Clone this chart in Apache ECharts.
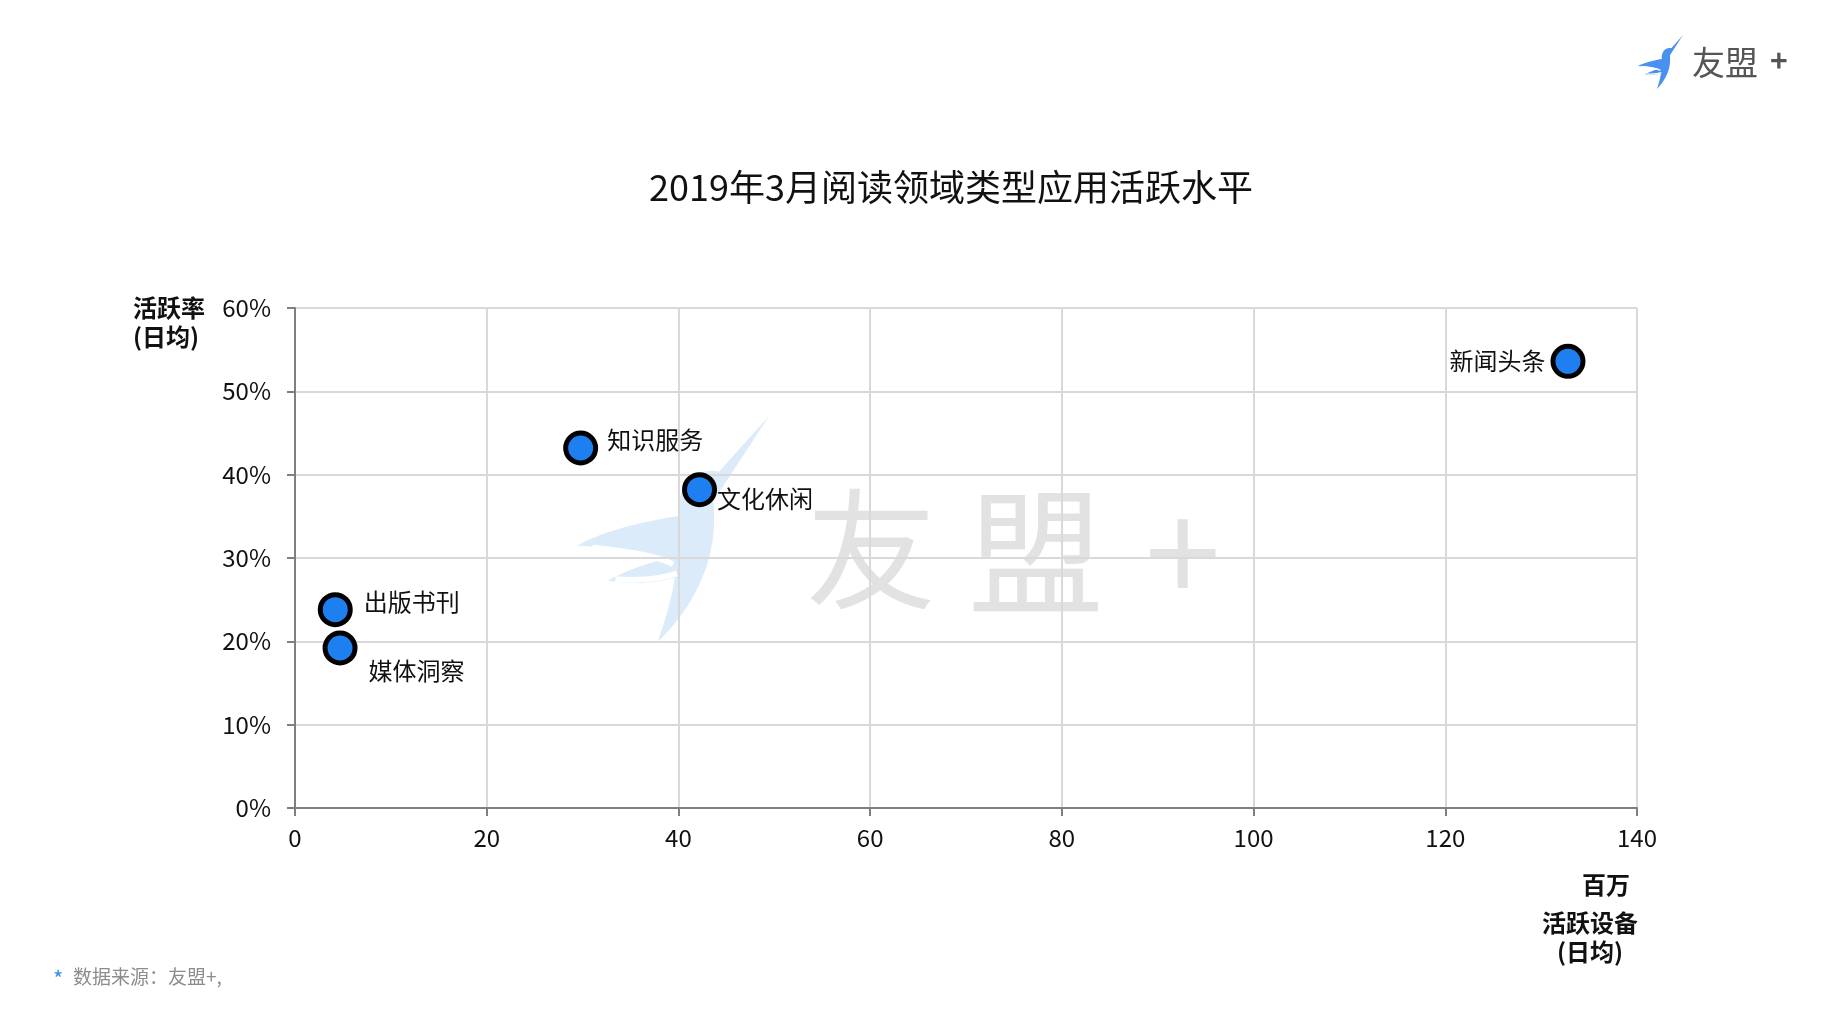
<!DOCTYPE html>
<html>
<head>
<meta charset="utf-8">
<script src="https://cdn.jsdelivr.net/npm/echarts@6/dist/echarts.min.js"></script>
<style>
html,body{margin:0;padding:0;background:#fff;}
#c{width:1822px;height:1019px;}
</style>
</head>
<body>
<div id="c"></div>
<script>
// ---- data ----
const categories = ['新闻头条', '知识服务', '文化休闲', '出版书刊', '媒体洞察'];
const activeDevices = [132.8, 29.8, 42.2, 4.2, 4.7];      // 百万
const activeRates = [53.6, 43.2, 38.2, 23.8, 19.2];        // %
const xTicks = [0, 20, 40, 60, 80, 100, 120, 140];
const yTicks = [0, 10, 20, 30, 40, 50, 60];

const FONT = '"Noto Sans CJK SC", "Noto Sans", sans-serif';

// label placement per point
const labelCfg = {
  '新闻头条': {position: 'left', distance: 5, offset: [0, 0]},
  '知识服务': {position: 'right', distance: 9, offset: [0, -8]},
  '文化休闲': {position: 'right', distance: 0, offset: [0, 9]},
  '出版书刊': {position: 'right', distance: 11, offset: [0, -8]},
  '媒体洞察': {position: 'right', distance: 11, offset: [0, 23]}
};

const seriesData = categories.map((n, i) => ({
  name: n,
  value: [activeDevices[i], activeRates[i]],
  label: Object.assign({show: true, formatter: '{b}'}, labelCfg[n])
}));

function birdSvg(color) {
  const d = 'M100,0 L74,30 C62,27 51,38 53,54 C34,57 14,62 0,70 C20,71 36,73 46,77 C32,81 22,85 16,89 C30,91 43,90 51,87 C49,100 46,110 42,122 C62,102 74,76 71,46 Z';
  const s = '<svg xmlns="http://www.w3.org/2000/svg" viewBox="0 0 100 122" width="100" height="122" preserveAspectRatio="none">' +
    '<path d="' + d + '" fill="' + color + '"/>' +
    '<path d="M8,71 C26,73 40,75 50,80" stroke="#fff" stroke-width="3" fill="none"/>' +
    '<path d="M20,88 C33,89 44,88 52,85" stroke="#fff" stroke-width="3" fill="none"/>' +
    '</svg>';
  return 'data:image/svg+xml;charset=utf-8,' + encodeURIComponent(s);
}

const chart = echarts.init(document.getElementById('c'), null, {renderer: 'canvas'});
chart.setOption({
  backgroundColor: '#ffffff',
  animation: false,
  title: {
    text: '2019年3月阅读领域类型应用活跃水平',
    left: 946, top: 164, textAlign: 'center',
    textStyle: {fontFamily: FONT, fontSize: 36, fontWeight: 'normal', color: '#111'}
  },
  grid: {left: 295, top: 308, right: 185, bottom: 211, containLabel: false},
  xAxis: {
    type: 'value', min: 0, max: 140, interval: 20,
    axisLine: {show: true, lineStyle: {color: '#7f7f7f', width: 2}},
    axisTick: {show: true, length: 8, lineStyle: {color: '#7f7f7f', width: 2}},
    axisLabel: {fontFamily: FONT, fontSize: 24, color: '#111', margin: 18},
    splitLine: {show: true, lineStyle: {color: '#d9d9d9', width: 2}}
  },
  yAxis: {
    type: 'value', min: 0, max: 60, interval: 10,
    axisLine: {show: true, lineStyle: {color: '#7f7f7f', width: 2}},
    axisTick: {show: true, length: 8, lineStyle: {color: '#7f7f7f', width: 2}},
    axisLabel: {fontFamily: FONT, fontSize: 24, color: '#111', margin: 24, formatter: '{value}%'},
    splitLine: {show: true, lineStyle: {color: '#d9d9d9', width: 2}}
  },
  series: [{
    type: 'scatter',
    data: seriesData,
    symbol: 'circle',
    symbolSize: 30,
    itemStyle: {color: '#1e80f0', borderColor: '#000', borderWidth: 5, opacity: 1},
    label: {fontFamily: FONT, fontSize: 24, color: '#111'},
    z: 5
  }],
  graphic: [
    // watermark bird
    {type: 'image', z: -10, silent: true, left: 577, top: 416,
     style: {image: birdSvg('#dcebfa'), width: 192, height: 226}},
    {type: 'text', z: -10, silent: true, x: 806, y: 484,
     style: {text: '友', fontFamily: FONT, fontSize: 130, fill: '#e2e2e2'}},
    {type: 'text', z: -10, silent: true, x: 968, y: 484,
     style: {text: '盟', fontFamily: FONT, fontSize: 136, fill: '#e2e2e2'}},
    {type: 'text', z: -10, silent: true, x: 1145, y: 484,
     style: {text: '+', fontFamily: FONT, fontSize: 136, fill: '#e2e2e2'}},
    // logo top right
    {type: 'image', silent: true, left: 1638, top: 35,
     style: {image: birdSvg('#4a90f0'), width: 45, height: 54}},
    {type: 'text', silent: true, x: 1692, y: 46,
     style: {text: '友盟', fontFamily: FONT, fontSize: 33, fill: '#555'}},
    {type: 'text', silent: true, x: 1770, y: 46,
     style: {text: '+', fontFamily: FONT, fontSize: 30, fontWeight: 'bold', fill: '#555'}},
    // y axis name
    {type: 'text', x: 133, y: 293,
     style: {text: '活跃率\n(日均)', fontFamily: FONT, fontSize: 24, fontWeight: 'bold', fill: '#111', lineHeight: 29}},
    // x axis names
    {type: 'text', x: 1606, y: 885,
     style: {text: '百万', fontFamily: FONT, fontSize: 24, fontWeight: 'bold', fill: '#111', align: 'center', verticalAlign: 'middle'}},
    {type: 'text', x: 1590, y: 923,
     style: {text: '活跃设备', fontFamily: FONT, fontSize: 24, fontWeight: 'bold', fill: '#111', align: 'center', verticalAlign: 'middle'}},
    {type: 'text', x: 1590, y: 952,
     style: {text: '(日均)', fontFamily: FONT, fontSize: 24, fontWeight: 'bold', fill: '#111', align: 'center', verticalAlign: 'middle'}},
    // footnote
    {type: 'text', x: 53, y: 968,
     style: {text: '*', fontFamily: FONT, fontSize: 22, fill: '#3b8fe8'}},
    {type: 'text', x: 73, y: 967,
     style: {text: '数据来源：友盟+,', fontFamily: FONT, fontSize: 19, fill: '#8c8c8c'}}
  ]
});
</script>
</body>
</html>
